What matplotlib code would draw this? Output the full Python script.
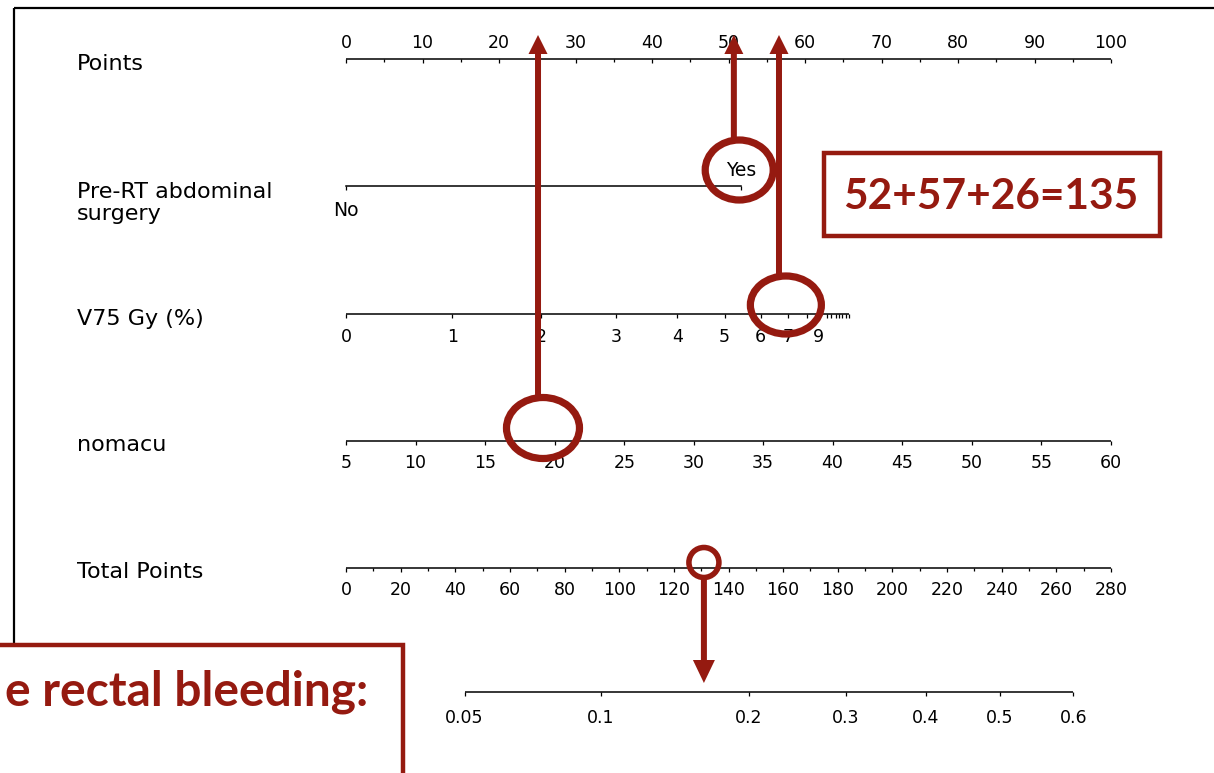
import matplotlib
matplotlib.use("Agg")
import matplotlib.pyplot as plt
from matplotlib.patches import Ellipse, FancyArrow, Rectangle

# ---------------- data ----------------
points_major = [0, 10, 20, 30, 40, 50, 60, 70, 80, 90, 100]
points_minor = [5, 15, 25, 35, 45, 55, 65, 75, 85, 95]

surgery_levels = ["No", "Yes"]
surgery_points = [0.0, 51.6]

v75_values = [0, 1, 2, 3, 4, 5, 6, 7, 8, 9]
v75_points = [0.0, 13.9, 25.5, 35.3, 43.3, 49.5, 54.2, 57.8, 60.3, 61.7]
v75_labelled = [True, True, True, True, True, True, True, True, False, True]
v75_extra_points = [62.9, 63.4, 64.0, 64.5, 64.9, 65.4, 65.7]

nomacu_values = [5, 10, 15, 20, 25, 30, 35, 40, 45, 50, 55, 60]
nomacu_points = [0.0, 9.1, 18.2, 27.3, 36.4, 45.5, 54.5, 63.6, 72.7, 81.8, 90.9, 100.0]

total_major = [0, 20, 40, 60, 80, 100, 120, 140, 160, 180, 200, 220, 240, 260, 280]
total_minor = [10, 30, 50, 70, 90, 110, 130, 150, 170, 190, 210, 230, 250, 270]

risk_values = [0.05, 0.1, 0.2, 0.3, 0.4, 0.5, 0.6]
risk_labels = ["0.05", "0.1", "0.2", "0.3", "0.4", "0.5", "0.6"]
risk_total_points = [43.4, 93.3, 147.5, 183.0, 212.3, 239.2, 266.2]

row_labels = ["Points", "Pre-RT abdominal\nsurgery", "V75 Gy (%)", "nomacu", "Total Points"]

# highlighted example (annotation)
sel_surgery_circle = 51.4     # points
sel_v75_circle = 57.5         # points
sel_nomacu_circle = 25.75     # points
sel_total_circle = 131.0      # total points
arrow_points = [25.1, 50.7, 56.6]
sum_text = "52+57+26=135"
bottom_text = "e rectal bleeding:"

# ---------------- layout ----------------
W, H = 1214, 773
X0, PXPP = 346, 7.65          # pixel of points=0, pixels per point
TP_RATIO = 2.8                # total points per point
row_y = {"points": 59, "surgery": 186, "v75": 314, "nomacu": 441, "total": 568, "risk": 692}
label_y = [64, 203, 319, 445, 572]
RED = "#951a10"
LW_AX = 1.1
TICK = 4

plt.rcParams["font.family"] = ["DejaVu Sans"]

fig = plt.figure(figsize=(W / 100, H / 100), dpi=100)
ax = fig.add_axes([0, 0, 1, 1])          # x in points
ax.set_xlim(-X0 / PXPP, (W - X0) / PXPP)
ax.set_ylim(H, 0)
ax.axis("off")

ax2 = fig.add_axes([0, 0, 1, 1])         # x in total points
ax2.set_xlim(-X0 / PXPP * TP_RATIO, (W - X0) / PXPP * TP_RATIO)
ax2.set_ylim(H, 0)
ax2.axis("off")
ax2.patch.set_alpha(0)

ax3 = fig.add_axes([0, 0, 1, 1])         # pixel overlay
ax3.set_xlim(0, W)
ax3.set_ylim(H, 0)
ax3.axis("off")
ax3.patch.set_alpha(0)

TICK_FS = 12.5
ROW_FS = 16

# frame
ax3.plot([14, W], [8, 8], color="black", lw=1.6, solid_capstyle="butt")
ax3.plot([14, 14], [8, 660], color="black", lw=1.6, solid_capstyle="butt")

# row labels
for lab, yy in zip(row_labels, label_y):
    ax3.text(77, yy, lab, fontsize=ROW_FS, va="center", ha="left", linespacing=1.08)

def draw_scale(a, y, xs_line, ticks, labels, label_dy, fs=TICK_FS):
    a.plot(xs_line, [y, y], color="black", lw=LW_AX, solid_capstyle="butt")
    a.vlines(ticks, y, y + TICK, color="black", lw=0.9)
    for t, l in zip(ticks, labels):
        if l is not None:
            a.text(t, y + label_dy, l, fontsize=fs, ha="center", va="center")

# Points
y = row_y["points"]
draw_scale(ax, y, [points_major[0], points_major[-1]], points_major,
           [str(v) for v in points_major], -16)
ax.vlines(points_minor, y, y + 3, color="black", lw=0.9)

# Pre-RT abdominal surgery
y = row_y["surgery"]
ax.plot(surgery_points, [y, y], color="black", lw=LW_AX)
ax.vlines(surgery_points, y, y + TICK, color="black", lw=0.9)
ax.text(surgery_points[0], y + 25, surgery_levels[0], fontsize=13.5, ha="center", va="center")
ax.text(surgery_points[1], y - 16, surgery_levels[1], fontsize=13.5, ha="center", va="center")

# V75
y = row_y["v75"]
draw_scale(ax, y, [v75_points[0], v75_extra_points[-1]], v75_points,
           [str(v) if s else None for v, s in zip(v75_values, v75_labelled)], 23)
ax.vlines(v75_extra_points, y, y + TICK, color="black", lw=0.9)

# nomacu
draw_scale(ax, row_y["nomacu"], [nomacu_points[0], nomacu_points[-1]], nomacu_points,
           [str(v) for v in nomacu_values], 22)

# Total points
y = row_y["total"]
draw_scale(ax2, y, [total_major[0], total_major[-1]], total_major,
           [str(v) for v in total_major], 22)
ax2.vlines(total_minor, y, y + 3, color="black", lw=0.9)

# Risk
draw_scale(ax2, row_y["risk"], [risk_total_points[0], risk_total_points[-1]],
           risk_total_points, risk_labels, 26)

# ---------------- annotations ----------------
def ring(a, cx, cy, wpx, hpx, scale, lw):
    a.add_patch(Ellipse((cx, cy), wpx / scale, hpx, fill=False, ec=RED, lw=lw, zorder=5))

def arrow(a, x, y0, y1, scale, shaft=6, head_w=19, head_l=19):
    a.add_patch(FancyArrow(x, y0, 0, y1 - y0, width=shaft / scale,
                           head_width=head_w / scale, head_length=head_l,
                           length_includes_head=True, color=RED, lw=0, zorder=6))

ring(ax, sel_surgery_circle, row_y["surgery"] - 16, 68, 60, PXPP, 5.2)
ring(ax, sel_v75_circle, row_y["v75"] - 9, 71, 58, PXPP, 5.2)
ring(ax, sel_nomacu_circle, row_y["nomacu"] - 13, 73, 61, PXPP, 5.2)
ring(ax2, sel_total_circle, row_y["total"] - 5.5, 30, 30, PXPP / TP_RATIO, 4)

arrow(ax, arrow_points[0], row_y["nomacu"] - 44, 35, PXPP)
arrow(ax, arrow_points[1], row_y["surgery"] - 48, 35, PXPP)
arrow(ax, arrow_points[2], row_y["v75"] - 40, 35, PXPP)
arrow(ax2, sel_total_circle, row_y["total"] + 12, 683, PXPP / TP_RATIO, head_w=22, head_l=23)

# boxes with text
ax3.add_patch(Rectangle((824, 153), 336, 83, fill=False, ec=RED, lw=3.2, zorder=7))
ax3.text(991, 197, sum_text, fontsize=30.5, fontweight="bold", color=RED,
         family=["Lato", "DejaVu Sans"], ha="center", va="center", zorder=8)

ax3.add_patch(Rectangle((-20, 645), 423, 160, fc="white", ec=RED, lw=3.2, zorder=7))
ax3.text(368, 692, bottom_text, fontsize=34.5, fontweight="bold", color=RED,
         family=["Lato", "DejaVu Sans"], ha="right", va="center", zorder=8)

fig.savefig("out.png", dpi=100)
